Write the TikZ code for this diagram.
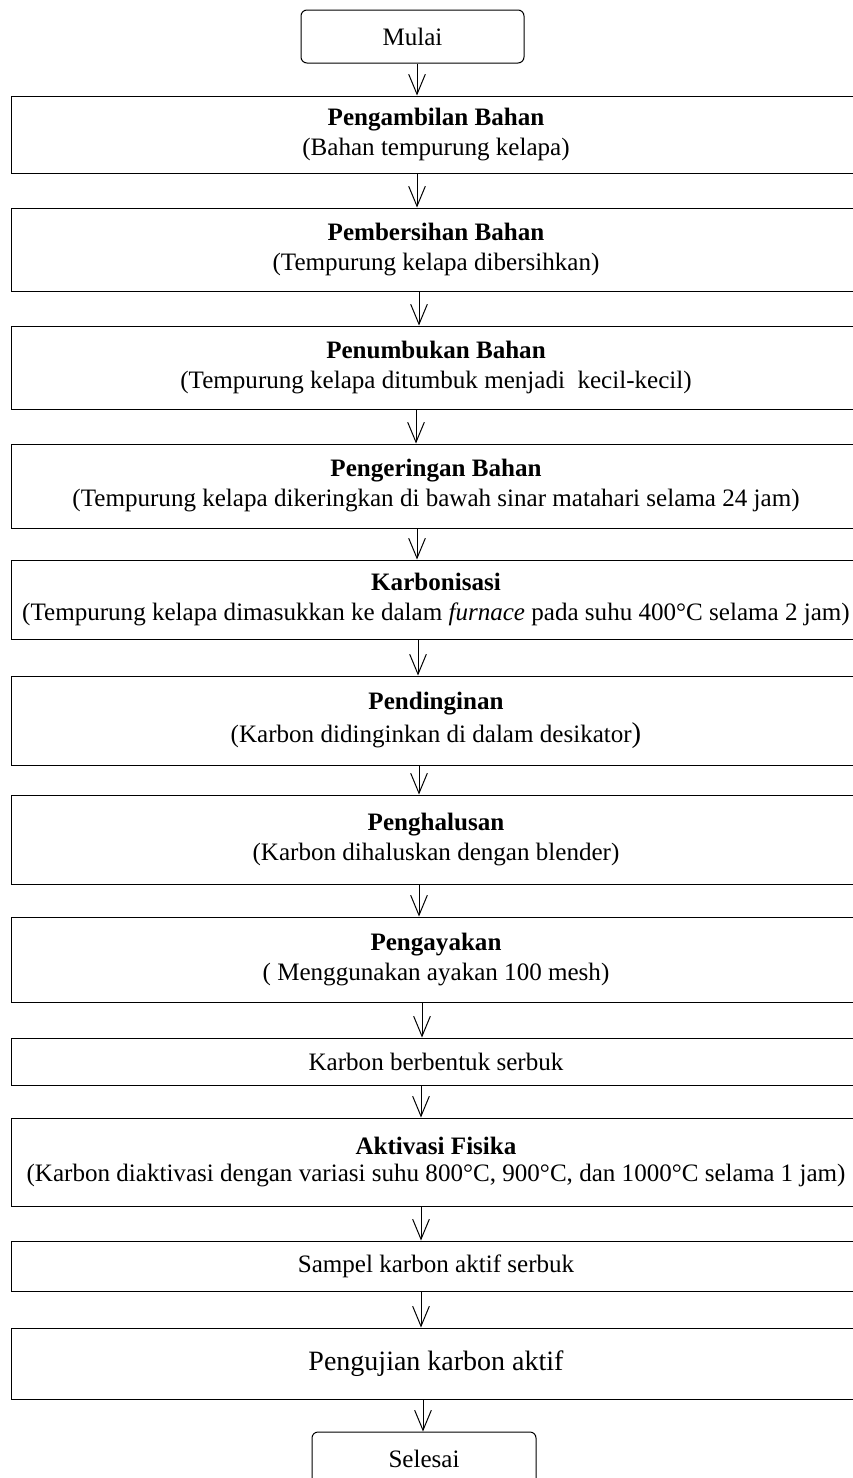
\documentclass[tikz,border=0pt]{standalone}
\usepackage{fontspec}
\setmainfont{Liberation Serif}
\usetikzlibrary{arrows.meta}
\begin{document}
\begin{tikzpicture}[x=0.75pt,y=-0.75pt,
  stepbox/.style={draw, line width=0.75pt, rectangle, inner sep=0pt, align=center,
    minimum width=637.5pt, font=\fontsize{18.8}{22.5}\selectfont},
  termbox/.style={draw, line width=0.75pt, rectangle, rounded corners=4.5pt, inner sep=0pt,
    align=center, font=\fontsize{18.8}{22.5}\selectfont},
  arr/.style={line width=0.75pt, -{Straight Barb[length=15pt,width=12.5pt]}}]
\useasboundingbox (0,0) rectangle (853,1478);
\clip (0,0) rectangle (853,1478);
\node[termbox, minimum width=167.25pt, minimum height=39.75pt] (mulai) at (412.5,36.5) {Mulai};
\node[stepbox, minimum height=57.75pt] (b1) at (436,134.5) {\textbf{Pengambilan Bahan}\\(Bahan tempurung kelapa)};
\node[stepbox, minimum height=62.25pt] (b2) at (436,249.5) {\textbf{Pembersihan Bahan}\\(Tempurung kelapa dibersihkan)};
\node[stepbox, minimum height=62.25pt] (b3) at (436,367.5) {\textbf{Penumbukan Bahan}\\(Tempurung kelapa ditumbuk menjadi\ \ kecil-kecil)};
\node[stepbox, minimum height=63pt] (b4) at (436,486) {\textbf{Pengeringan Bahan}\\(Tempurung kelapa dikeringkan di bawah sinar matahari selama 24 jam)};
\node[stepbox, minimum height=59.25pt] (b5) at (436,599.5) {\textbf{Karbonisasi}\\(Tempurung kelapa dimasukkan ke dalam \textit{furnace} pada suhu 400°C selama 2 jam)};
\node[stepbox, minimum height=66.75pt] (b6) at (436,720.5) {\textbf{Pendinginan}\\[2pt](Karbon didinginkan di dalam desikator{\fontsize{21.5}{22.5}\selectfont)}};
\node[stepbox, minimum height=66.75pt] (b7) at (436,839.5) {\textbf{Penghalusan}\\(Karbon dihaluskan dengan blender)};
\node[stepbox, minimum height=63.75pt] (b8) at (436,959.5) {\textbf{Pengayakan}\\( Menggunakan ayakan 100 mesh)};
\node[stepbox, minimum height=35.25pt] (b9) at (436,1061.5) {Karbon berbentuk serbuk};
\node[stepbox, minimum height=66pt] (b10) at (436,1162) {\raisebox{4pt}{\textbf{Aktivasi Fisika}}\\[-2pt]\raisebox{4pt}{(Karbon diaktivasi dengan variasi suhu 800°C, 900°C, dan 1000°C selama 1 jam)}};
\node[stepbox, minimum height=37.5pt] (b11) at (436,1266) {Sampel karbon aktif serbuk};
\node[stepbox, minimum height=53.25pt, font=\fontsize{21}{24}\selectfont] (b12) at (436,1363.5) {\raisebox{5pt}{Pengujian karbon aktif}};
\node[termbox, minimum width=168pt, minimum height=39.75pt] (selesai) at (424,1458.5) {\raisebox{-1pt}{Selesai}};
\foreach \a/\b/\xx in {mulai/b1/417, b1/b2/417, b2/b3/419, b3/b4/416, b4/b5/417, b5/b6/418,
  b6/b7/419, b7/b8/419, b8/b9/422, b9/b10/421, b10/b11/421, b11/b12/421, b12/selesai/423}{
  \coordinate (ax) at (\xx,0);
  \draw[arr] (\a.south -| ax) -- (\b.north -| ax);
}
\end{tikzpicture}
\end{document}
